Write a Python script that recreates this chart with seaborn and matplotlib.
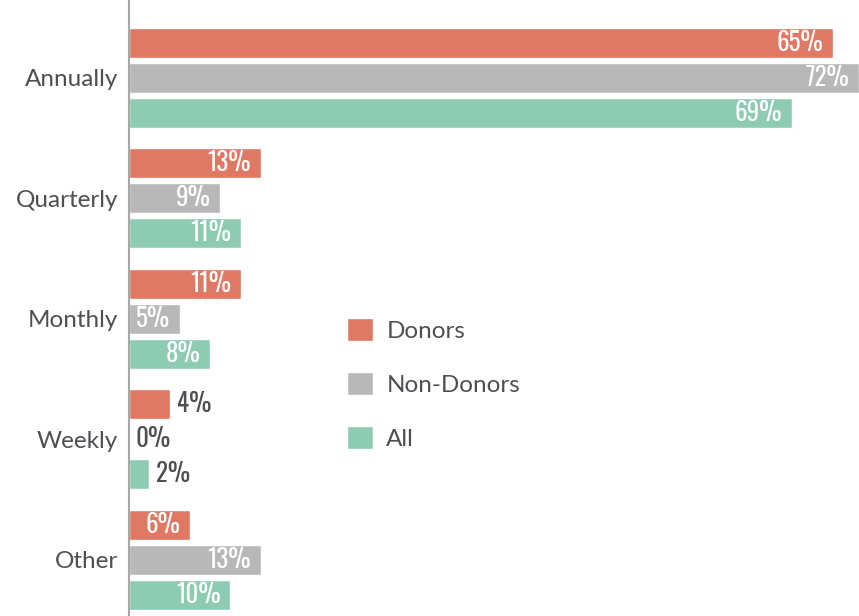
import pandas as pd
import seaborn as sns
import matplotlib.pyplot as plt

# dados
categories = ['Annually', 'Quarterly', 'Monthly', 'Weekly', 'Other']
groups = ['Donors', 'Non-Donors', 'All']
donors = [69.4, 13, 11, 4, 6]       # comprimento das barras
non_donors = [72, 9, 5, 0, 13]
all_resp = [65.4, 11, 8, 2, 10]
donors_lbl = ['65%', '13%', '11%', '4%', '6%']   # rótulos escritos no gráfico
non_donors_lbl = ['72%', '9%', '5%', '0%', '13%']
all_lbl = ['69%', '11%', '8%', '2%', '10%']
colors = ['#E07863', '#B8B8BA', '#8DCBB2']

df = pd.DataFrame({
    'category': categories * 3,
    'group': [g for g in groups for _ in categories],
    'value': donors + non_donors + all_resp,
    'label': donors_lbl + non_donors_lbl + all_lbl,
})

sns.set_style('white')
plt.rcParams['font.family'] = ['Lato', 'DejaVu Sans']
text_color = '#4D4F53'

fig = plt.figure(figsize=(8.59, 6.16), dpi=100)
ax = fig.add_axes([129 / 859, 0, 1 - 129 / 859, 1])

sns.barplot(data=df, x='value', y='category', hue='group', orient='h',
            palette=colors, width=0.87, gap=0.14, saturation=1,
            order=categories, hue_order=groups, ax=ax)

ax.set_xlim(0, 72)
ax.set_ylim(4.468, -0.644)

# rótulos das barras (fonte condensada)
num_font = ['Oswald', 'Barlow Condensed', 'DejaVu Sans']
for container, g in zip(ax.containers, groups):
    sub = df[df['group'] == g]
    for bar, v, lab in zip(container, sub['value'], sub['label']):
        y = bar.get_y() + bar.get_height() / 2
        if v >= 5:
            ax.annotate(lab, (v, y), xytext=(-7, 0), textcoords='offset points',
                        ha='right', va='center', color='white', fontsize=18,
                        family=num_font, fontweight='light')
        else:
            ax.annotate(lab, (v, y), xytext=(5, 0), textcoords='offset points',
                        ha='left', va='center', color=text_color, fontsize=18,
                        family=num_font, fontweight='light')

ax.set_xlabel('')
ax.set_ylabel('')
ax.set_xticks([])
ax.tick_params(axis='y', length=0, pad=8, labelsize=17.5, labelcolor=text_color)
for s in ['top', 'right', 'bottom']:
    ax.spines[s].set_visible(False)
ax.spines['left'].set_color('#A8A8A8')
ax.spines['left'].set_linewidth(1.5)

ax.legend(loc='upper left', bbox_to_anchor=(347 / 859, 1 - 318 / 616),
          bbox_transform=fig.transFigure, frameon=False, fontsize=17.5,
          handlelength=1.07, handleheight=1.07, handletextpad=0.55,
          labelspacing=1.25, borderpad=0, borderaxespad=0, labelcolor=text_color)

fig.savefig('out.png', dpi=100)
